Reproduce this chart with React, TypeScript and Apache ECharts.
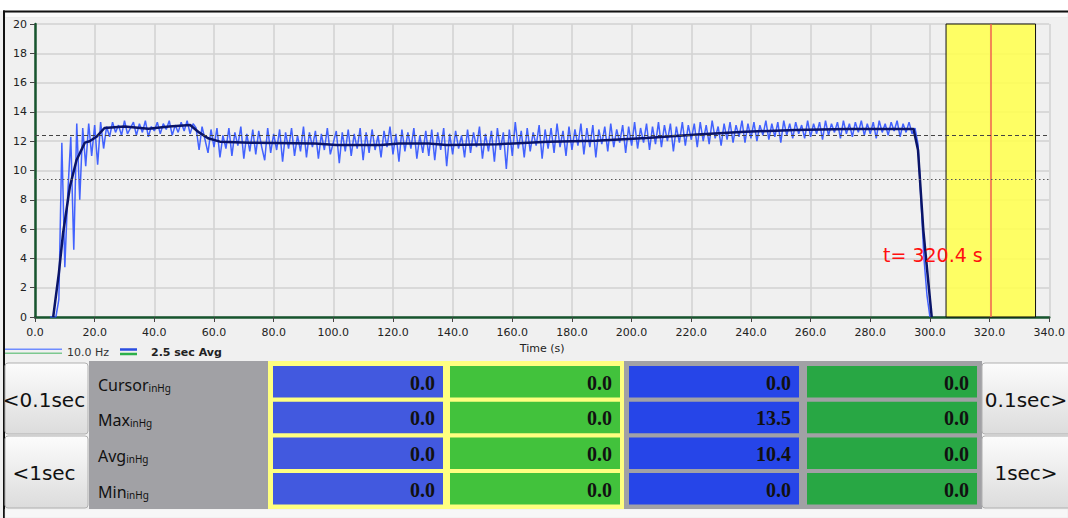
import React, { useEffect, useRef } from 'react';
import * as echarts from 'echarts';

// ---------------- data ----------------
const xMin = 0;
const xMax = 340;
const xInterval = 20;
const yMin = 0;
const yMax = 20;
const yInterval = 2;

// 10.0 Hz raw signal (one value per rawStep seconds from rawStart)
const rawStart = 5;
const rawStep = 1;
const rawValues = [
  0, 0, 0, 1.2, 11.9, 3.4, 8.5, 12.3, 4.6, 13.2,
  8.0, 12.9, 10.3, 13.2, 11.0, 13.1, 10.4, 13.3, 11.5, 13.0,
  12.3, 13.3, 12.6, 13.1, 12.4, 13.4, 12.5, 12.9, 13.3, 12.4,
  13.2, 12.6, 13.4, 12.3, 13.0, 12.7, 13.3, 12.5, 13.2, 12.8,
  13.4, 12.4, 13.1, 12.6, 13.3, 12.7, 13.4, 12.5, 13.2, 12.9,
  11.4, 13.0, 12.1, 11.2, 12.8, 11.6, 12.9, 10.9, 12.4, 11.5,
  12.9, 11.0, 12.6, 11.7, 13.0, 10.8, 12.5, 11.3, 12.8, 11.1,
  12.7, 11.6, 10.7, 12.9, 11.2, 12.5, 11.4, 12.8, 10.6, 12.6,
  11.5, 12.9, 11.0, 12.4, 11.3, 13.0, 10.9, 12.6, 11.6, 12.7,
  10.8, 12.5, 11.4, 12.9, 11.1, 11.9, 12.7, 10.5, 12.6, 11.3,
  12.8, 11.0, 12.5, 11.5, 12.9, 10.7, 12.6, 11.2, 12.8, 11.4,
  12.4, 10.9, 12.7, 11.6, 13.0, 11.1, 12.5, 10.6, 12.8, 11.3,
  12.6, 11.5, 12.9, 10.8, 12.4, 11.2, 12.7, 11.0, 12.8, 10.7,
  12.6, 11.4, 12.9, 10.3, 12.5, 11.1, 12.7, 11.5, 12.4, 10.9,
  12.8, 11.2, 12.6, 11.6, 13.0, 10.8, 12.5, 11.3, 12.7, 10.6,
  12.9, 11.4, 12.6, 10.1, 12.8, 11.0, 13.3, 11.5, 12.7, 10.9,
  12.9, 11.3, 12.6, 11.7, 13.1, 10.8, 12.8, 11.5, 12.9, 11.2,
  13.2, 11.6, 12.7, 11.0, 13.0, 11.4, 12.8, 11.7, 13.2, 11.1,
  12.9, 11.6, 13.1, 10.9, 12.8, 11.8, 13.0, 11.3, 13.2, 11.6,
  12.8, 11.9, 13.1, 11.2, 13.0, 11.7, 13.3, 11.5, 12.9, 11.9,
  13.2, 11.4, 13.0, 11.8, 13.3, 11.6, 13.1, 12.0, 13.2, 11.3,
  13.0, 11.9, 13.3, 11.7, 13.1, 12.1, 13.2, 11.6, 13.3, 12.0,
  13.1, 11.8, 13.4, 12.2, 13.0, 11.7, 13.2, 12.1, 13.3, 11.9,
  13.1, 12.3, 13.4, 11.9, 13.2, 12.2, 13.3, 12.0, 13.1, 12.4,
  13.4, 12.1, 13.2, 12.3, 13.3, 11.9, 13.4, 12.4, 13.2, 12.2,
  13.3, 12.5, 13.1, 12.2, 13.4, 12.3, 13.2, 12.5, 13.3, 12.1,
  13.4, 12.4, 13.2, 12.6, 13.3, 12.2, 13.4, 12.5, 13.2, 12.3,
  13.3, 12.6, 13.4, 12.4, 13.2, 12.5, 13.3, 12.2, 13.4, 12.6,
  13.2, 12.4, 13.3, 12.7, 13.4, 12.3, 13.2, 12.6, 13.3, 12.5,
  12.9, 11.8, 8.0, 4.0, 1.5, 0,
];

// 2.5 sec average
const avgTimes = [6.1, 8.0, 9.4, 11.7, 13.9, 16.7, 18.3, 20.6, 23.3, 30, 38, 45, 52, 55, 58, 62, 72, 94, 101, 116, 122, 132, 138, 155, 172, 188, 205, 222, 238, 255, 272, 294.5, 296, 297.8, 299.4, 300.6];
const avgValues = [0, 3.0, 5.7, 8.9, 10.7, 11.9, 12.0, 12.3, 12.9, 13.0, 12.85, 13.0, 13.1, 12.6, 12.2, 11.97, 11.9, 11.85, 11.74, 11.74, 11.85, 11.85, 11.74, 11.79, 11.97, 12.03, 12.22, 12.45, 12.65, 12.76, 12.83, 12.83, 11.4, 5.9, 2.5, 0];

const cursorTime = 320.4;
const cursorWindow = [305.4, 335.4];
const refDashed = 12.4;
const refDotted = 9.4;

const legendLabels = ['10.0 Hz', '2.5 sec Avg'];
const xAxisName = 'Time (s)';

const rowLabels = ['Cursor', 'Max', 'Avg', 'Min'];
const unitLabel = 'inHg';
const col1Values = [0.0, 0.0, 0.0, 0.0];
const col2Values = [0.0, 0.0, 0.0, 0.0];
const col3Values = [0.0, 13.5, 10.4, 0.0];
const col4Values = [0.0, 0.0, 0.0, 0.0];
const leftButtons = ['<0.1sec', '<1sec'];
const rightButtons = ['0.1sec>', '1sec>'];

// ---------------- layout ----------------
const W = 1068;
const H = 518;
const SANS = '"DejaVu Sans", sans-serif';

export default function App() {
  const ref = useRef<HTMLDivElement>(null);

  useEffect(() => {
    document.body.style.margin = '0';
    const chart = echarts.init(ref.current!, null, { renderer: 'svg' });

    const rawData = rawValues.map((v, i) => [rawStart + i * rawStep, v]);
    const avgData = avgTimes.map((t, i) => [t, avgValues[i]]);

    const btnFill = () =>
      new echarts.graphic.LinearGradient(0, 0, 0, 1, [
        { offset: 0, color: '#fcfcfc' },
        { offset: 1, color: '#dcdcdc' },
      ]);

    const graphics: any[] = [];
    // top white strip and frame
    graphics.push({ type: 'rect', shape: { x: 0, y: 0, width: W, height: 11 }, style: { fill: '#ffffff' }, silent: true });
    graphics.push({ type: 'rect', shape: { x: 5, y: 12.5, width: W - 5, height: 5 }, style: { fill: '#fafafa', stroke: '#e2e2e2', lineWidth: 0.5 }, silent: true });
    graphics.push({ type: 'rect', shape: { x: 3, y: 10.5, width: W - 3, height: 2 }, style: { fill: '#111' }, silent: true });
    graphics.push({ type: 'rect', shape: { x: 3, y: 10.5, width: 2, height: H - 10 }, style: { fill: '#111' }, silent: true });
    graphics.push({ type: 'rect', shape: { x: 5, y: 509, width: W - 5, height: 9 }, style: { fill: '#f7f7f7', stroke: '#e0e0e0', lineWidth: 0.5 }, silent: true });

    // legend
    graphics.push({ type: 'line', shape: { x1: 5, y1: 349.3, x2: 62, y2: 349.3 }, style: { stroke: '#6f8cff', lineWidth: 1.5 } });
    graphics.push({ type: 'line', shape: { x1: 5, y1: 353.3, x2: 62, y2: 353.3 }, style: { stroke: '#7cc890', lineWidth: 1.5 } });
    graphics.push({ type: 'text', x: 67, y: 352.5, style: { text: legendLabels[0], font: `11px ${SANS}`, fill: '#333', verticalAlign: 'middle' } });
    graphics.push({ type: 'line', shape: { x1: 120, y1: 349.5, x2: 137, y2: 349.5 }, style: { stroke: '#2a4de0', lineWidth: 2.5 } });
    graphics.push({ type: 'line', shape: { x1: 120, y1: 354, x2: 137, y2: 354 }, style: { stroke: '#2cb04a', lineWidth: 2.5 } });
    graphics.push({ type: 'text', x: 151, y: 352.5, style: { text: legendLabels[1], font: `bold 11px ${SANS}`, fill: '#222', verticalAlign: 'middle' } });

    // cursor label (above the shaded window)
    graphics.push({ type: 'text', x: 883, y: 255, z: 10, style: { text: `t= ${cursorTime.toFixed(1)} s`, font: `19px ${SANS}`, fill: '#ff1010', verticalAlign: 'middle' } });

    // table panels
    graphics.push({ type: 'rect', shape: { x: 89, y: 361, width: 893, height: 148 }, style: { fill: '#a1a1a5' }, silent: true });
    graphics.push({ type: 'rect', shape: { x: 268, y: 361, width: 356, height: 148 }, style: { fill: '#ffff80' }, silent: true });

    const rowTop0 = 366;
    const rowPitch = 35.7;
    const cellH = 31.5;
    const cols = [
      { x: 273, w: 170, color: '#4259df', vals: col1Values },
      { x: 450, w: 170, color: '#42c23c', vals: col2Values },
      { x: 629, w: 170, color: '#2645e8', vals: col3Values },
      { x: 807, w: 170, color: '#28a744', vals: col4Values },
    ];
    rowLabels.forEach((lab, r) => {
      const top = rowTop0 + r * rowPitch;
      const cy = top + cellH / 2;
      graphics.push({
        type: 'text', x: 98, y: cy + 1,
        style: {
          text: `{a|${lab}}{b|${unitLabel}}`,
          verticalAlign: 'middle',
          rich: {
            a: { fontFamily: '"Noto Sans", sans-serif', fontSize: 16, lineHeight: 20, fill: '#111', verticalAlign: 'bottom' },
            b: { fontFamily: '"Noto Sans", sans-serif', fontSize: 10, lineHeight: 11, fill: '#111', verticalAlign: 'bottom' },
          },
        },
      });
      cols.forEach((c) => {
        graphics.push({ type: 'rect', shape: { x: c.x, y: top, width: c.w, height: cellH }, style: { fill: c.color }, silent: true });
        graphics.push({
          type: 'text', x: c.x + c.w - 8, y: cy + 1,
          style: { text: c.vals[r].toFixed(1), font: `bold 20px "Liberation Serif", serif`, fill: '#111', align: 'right', verticalAlign: 'middle' },
        });
      });
    });

    // buttons
    const btnRows = [
      { y: 363, h: 71 },
      { y: 436, h: 72 },
    ];
    btnRows.forEach((b, i) => {
      graphics.push({ type: 'rect', shape: { x: 5, y: b.y, width: 83, height: b.h, r: 3 }, style: { fill: btnFill(), stroke: '#b0b0b0', lineWidth: 1 } });
      graphics.push({ type: 'text', x: 44, y: b.y + b.h / 2 + 1, style: { text: leftButtons[i], font: `20px ${SANS}`, fill: '#111', align: 'center', verticalAlign: 'middle' } });
      graphics.push({ type: 'rect', shape: { x: 982, y: b.y, width: 90, height: b.h, r: 3 }, style: { fill: btnFill(), stroke: '#b0b0b0', lineWidth: 1 } });
      graphics.push({ type: 'text', x: 1026, y: b.y + b.h / 2 + 1, style: { text: rightButtons[i], font: `20px ${SANS}`, fill: '#111', align: 'center', verticalAlign: 'middle' } });
    });

    const option: any = {
      animation: false,
      backgroundColor: '#f0f0f0',
      grid: { left: 35, top: 24, width: 1020, height: 293, containLabel: false },
      xAxis: {
        type: 'value', min: xMin, max: xMax, interval: xInterval,
        name: xAxisName, nameLocation: 'middle', nameGap: 23,
        nameTextStyle: { fontFamily: SANS, fontSize: 11, color: '#222' },
        axisLine: { show: true, onZero: false, lineStyle: { color: '#17552e', width: 2.5 } },
        axisTick: { show: true, length: 5, lineStyle: { color: '#444' } },
        axisLabel: { fontFamily: SANS, fontSize: 11, color: '#222', margin: 10, formatter: (v: number) => v.toFixed(1), showMaxLabel: true },
        splitLine: { show: true, lineStyle: { color: '#d2d2d2', width: 1.5 } },
      },
      yAxis: {
        type: 'value', min: yMin, max: yMax, interval: yInterval,
        axisLine: { show: true, onZero: false, lineStyle: { color: '#17552e', width: 2.5 } },
        axisTick: { show: true, length: 5, lineStyle: { color: '#444' } },
        axisLabel: { fontFamily: SANS, fontSize: 11, color: '#222', margin: 8 },
        splitLine: { show: true, lineStyle: { color: '#d2d2d2', width: 1.5 } },
      },
      graphic: graphics,
      series: [
        {
          type: 'line', name: 'cursor', data: [], z: 1,
          markArea: {
            silent: true,
            itemStyle: { color: 'rgba(255,255,80,0.88)', borderColor: '#111', borderWidth: 1 },
            data: [[{ xAxis: cursorWindow[0] }, { xAxis: cursorWindow[1] }]],
          },
          markLine: {
            silent: true, symbol: 'none', label: { show: false },
            lineStyle: { color: '#f06050', width: 1.5, type: 'solid' },
            data: [{ xAxis: cursorTime }],
          },
        },
        {
          type: 'line', name: legendLabels[0], data: rawData, showSymbol: false, z: 2,
          lineStyle: { color: '#2f52ff', width: 1.5, opacity: 0.9 },
          itemStyle: { color: '#2f52ff' },
          markLine: {
            silent: true, symbol: 'none', label: { show: false },
            data: [
              { yAxis: refDashed, lineStyle: { color: '#444', width: 1.2, type: [4, 3] } },
              { yAxis: refDotted, lineStyle: { color: '#555', width: 1.2, type: [1.5, 2.5] } },
            ],
          },
        },
        {
          type: 'line', name: legendLabels[1], data: avgData, showSymbol: false, z: 3,
          lineStyle: { color: '#0a1468', width: 2.5 },
          itemStyle: { color: '#0a1468' },
        },
      ],
    };
    chart.setOption(option);
    return () => chart.dispose();
  }, []);

  return <div ref={ref} style={{ width: W, height: H }} />;
}
